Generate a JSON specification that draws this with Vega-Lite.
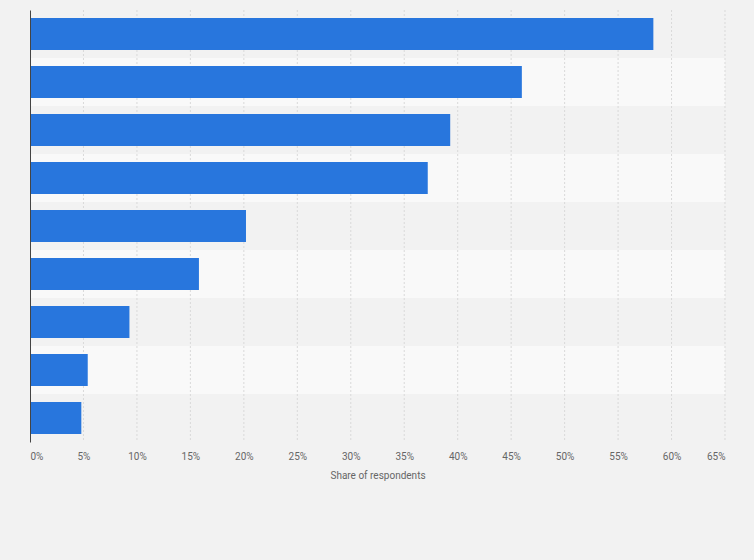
{
  "$schema": "https://vega.github.io/schema/vega-lite/v6.json",
  "autosize": {"type": "none"},
  "width": 695,
  "height": 432,
  "padding": {"left": 30, "top": 10, "right": 29, "bottom": 118},
  "background": "#f2f2f2",
  "config": {"view": {"stroke": null}, "font": "Roboto"},
  "datasets": {
    "answers": [
      {"answer": "Answer 1", "share": 0.583},
      {"answer": "Answer 2", "share": 0.460},
      {"answer": "Answer 3", "share": 0.393},
      {"answer": "Answer 4", "share": 0.372},
      {"answer": "Answer 5", "share": 0.202},
      {"answer": "Answer 6", "share": 0.158},
      {"answer": "Answer 7", "share": 0.093},
      {"answer": "Answer 8", "share": 0.054},
      {"answer": "Answer 9", "share": 0.048}
    ],
    "gridlines": [
      {"value": 0.05}, {"value": 0.10}, {"value": 0.15}, {"value": 0.20},
      {"value": 0.25}, {"value": 0.30}, {"value": 0.35}, {"value": 0.40},
      {"value": 0.45}, {"value": 0.50}, {"value": 0.55}, {"value": 0.60},
      {"value": 0.65}
    ]
  },
  "layer": [
    {
      "data": {"name": "answers"},
      "transform": [{"filter": {"field": "answer", "oneOf": ["Answer 2", "Answer 4", "Answer 6", "Answer 8"]}}],
      "mark": {"type": "bar", "color": "#f9f9f9", "cornerRadius": 0},
      "encoding": {
        "y": {"field": "answer", "type": "nominal", "sort": null},
        "x": {"datum": 0},
        "x2": {"datum": 0.65}
      }
    },
    {
      "data": {"name": "gridlines"},
      "mark": {"type": "rule", "color": "#d9d9d9", "strokeWidth": 1, "strokeDash": [2, 2]},
      "encoding": {
        "x": {"field": "value", "type": "quantitative"}
      }
    },
    {
      "data": {"name": "answers"},
      "mark": {"type": "bar", "color": "#2876dd", "height": {"band": 0.667}},
      "encoding": {
        "y": {
          "field": "answer",
          "type": "nominal",
          "sort": null,
          "scale": {
            "domain": ["Answer 1", "Answer 2", "Answer 3", "Answer 4", "Answer 5", "Answer 6", "Answer 7", "Answer 8", "Answer 9"],
            "paddingInner": 0,
            "paddingOuter": 0
          },
          "axis": {
            "title": null,
            "labels": false,
            "ticks": false,
            "tickSize": 0,
            "grid": false,
            "domain": true,
            "domainColor": "#444444",
            "domainWidth": 1,
            "zindex": 1
          }
        },
        "x": {
          "field": "share",
          "type": "quantitative",
          "scale": {"domain": [0, 0.65], "nice": false},
          "axis": {
            "title": "Share of respondents",
            "titleFont": "Roboto",
            "titleFontSize": 10,
            "titleFontWeight": "normal",
            "titleColor": "#666666",
            "titlePadding": 9,
            "values": [0, 0.05, 0.1, 0.15, 0.2, 0.25, 0.3, 0.35, 0.4, 0.45, 0.5, 0.55, 0.6, 0.65],
            "format": ".0%",
            "labelFont": "Roboto",
            "labelFontSize": 10,
            "labelColor": "#666666",
            "labelFlush": true,
            "labelPadding": 9,
            "ticks": false,
            "tickSize": 0,
            "domain": false,
            "grid": false
          }
        }
      }
    }
  ]
}
